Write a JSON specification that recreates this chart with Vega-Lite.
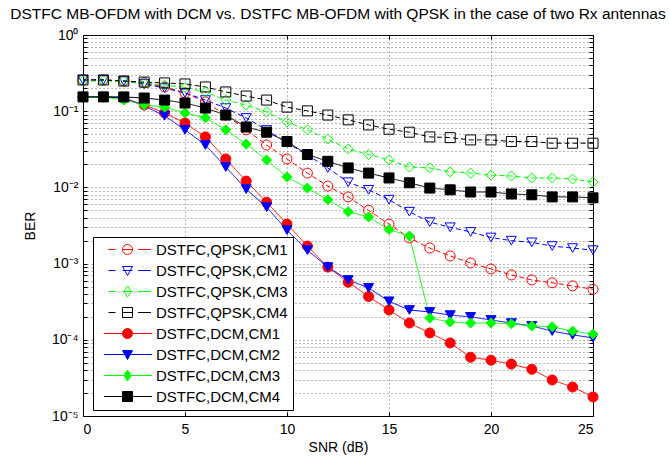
{
"$schema": "https://vega.github.io/schema/vega-lite/v6.json",
"width": 510, "height": 381,
"autosize": {"type": "none"},
"padding": {"left": 83, "top": 35, "right": 77, "bottom": 40},
"background": "white",
"title": {"text": "DSTFC MB-OFDM with DCM vs. DSTFC MB-OFDM with QPSK in the case of two Rx antennas", "fontSize": 15.5, "font": "Liberation Sans", "fontWeight": "normal", "color": "#000", "anchor": "middle", "offset": 6},
"data": {"values": [
{"series":"DSTFC,QPSK,CM1","snr":0,"ber":0.257},{"series":"DSTFC,QPSK,CM1","snr":1,"ber":0.257},{"series":"DSTFC,QPSK,CM1","snr":2,"ber":0.249},{"series":"DSTFC,QPSK,CM1","snr":3,"ber":0.235},{"series":"DSTFC,QPSK,CM1","snr":4,"ber":0.208},{"series":"DSTFC,QPSK,CM1","snr":5,"ber":0.174},{"series":"DSTFC,QPSK,CM1","snr":6,"ber":0.132},{"series":"DSTFC,QPSK,CM1","snr":7,"ber":0.089},{"series":"DSTFC,QPSK,CM1","snr":8,"ber":0.057},{"series":"DSTFC,QPSK,CM1","snr":9,"ber":0.036},{"series":"DSTFC,QPSK,CM1","snr":10,"ber":0.0236},{"series":"DSTFC,QPSK,CM1","snr":11,"ber":0.0154},{"series":"DSTFC,QPSK,CM1","snr":12,"ber":0.0104},{"series":"DSTFC,QPSK,CM1","snr":13,"ber":0.0075},{"series":"DSTFC,QPSK,CM1","snr":14,"ber":0.005},{"series":"DSTFC,QPSK,CM1","snr":15,"ber":0.0033},{"series":"DSTFC,QPSK,CM1","snr":16,"ber":0.00217},{"series":"DSTFC,QPSK,CM1","snr":17,"ber":0.0016},{"series":"DSTFC,QPSK,CM1","snr":18,"ber":0.00126},{"series":"DSTFC,QPSK,CM1","snr":19,"ber":0.00102},{"series":"DSTFC,QPSK,CM1","snr":20,"ber":0.00085},{"series":"DSTFC,QPSK,CM1","snr":21,"ber":0.00071},{"series":"DSTFC,QPSK,CM1","snr":22,"ber":0.00061},{"series":"DSTFC,QPSK,CM1","snr":23,"ber":0.00056},{"series":"DSTFC,QPSK,CM1","snr":24,"ber":0.00051},{"series":"DSTFC,QPSK,CM1","snr":25,"ber":0.00046},
{"series":"DSTFC,QPSK,CM2","snr":0,"ber":0.257},{"series":"DSTFC,QPSK,CM2","snr":1,"ber":0.257},{"series":"DSTFC,QPSK,CM2","snr":2,"ber":0.249},{"series":"DSTFC,QPSK,CM2","snr":3,"ber":0.228},{"series":"DSTFC,QPSK,CM2","snr":4,"ber":0.201},{"series":"DSTFC,QPSK,CM2","snr":5,"ber":0.174},{"series":"DSTFC,QPSK,CM2","snr":6,"ber":0.14},{"series":"DSTFC,QPSK,CM2","snr":7,"ber":0.11},{"series":"DSTFC,QPSK,CM2","snr":8,"ber":0.0815},{"series":"DSTFC,QPSK,CM2","snr":9,"ber":0.0567},{"series":"DSTFC,QPSK,CM2","snr":10,"ber":0.0385},{"series":"DSTFC,QPSK,CM2","snr":11,"ber":0.0266},{"series":"DSTFC,QPSK,CM2","snr":12,"ber":0.018},{"series":"DSTFC,QPSK,CM2","snr":13,"ber":0.0117},{"series":"DSTFC,QPSK,CM2","snr":14,"ber":0.0093},{"series":"DSTFC,QPSK,CM2","snr":15,"ber":0.0069},{"series":"DSTFC,QPSK,CM2","snr":16,"ber":0.0048},{"series":"DSTFC,QPSK,CM2","snr":17,"ber":0.0035},{"series":"DSTFC,QPSK,CM2","snr":18,"ber":0.003},{"series":"DSTFC,QPSK,CM2","snr":19,"ber":0.0026},{"series":"DSTFC,QPSK,CM2","snr":20,"ber":0.0022},{"series":"DSTFC,QPSK,CM2","snr":21,"ber":0.002},{"series":"DSTFC,QPSK,CM2","snr":22,"ber":0.0019},{"series":"DSTFC,QPSK,CM2","snr":23,"ber":0.0017},{"series":"DSTFC,QPSK,CM2","snr":24,"ber":0.0016},{"series":"DSTFC,QPSK,CM2","snr":25,"ber":0.0015},
{"series":"DSTFC,QPSK,CM3","snr":0,"ber":0.25},{"series":"DSTFC,QPSK,CM3","snr":1,"ber":0.25},{"series":"DSTFC,QPSK,CM3","snr":2,"ber":0.245},{"series":"DSTFC,QPSK,CM3","snr":3,"ber":0.235},{"series":"DSTFC,QPSK,CM3","snr":4,"ber":0.22},{"series":"DSTFC,QPSK,CM3","snr":5,"ber":0.205},{"series":"DSTFC,QPSK,CM3","snr":6,"ber":0.179},{"series":"DSTFC,QPSK,CM3","snr":7,"ber":0.14},{"series":"DSTFC,QPSK,CM3","snr":8,"ber":0.12},{"series":"DSTFC,QPSK,CM3","snr":9,"ber":0.098},{"series":"DSTFC,QPSK,CM3","snr":10,"ber":0.072},{"series":"DSTFC,QPSK,CM3","snr":11,"ber":0.057},{"series":"DSTFC,QPSK,CM3","snr":12,"ber":0.043},{"series":"DSTFC,QPSK,CM3","snr":13,"ber":0.032},{"series":"DSTFC,QPSK,CM3","snr":14,"ber":0.027},{"series":"DSTFC,QPSK,CM3","snr":15,"ber":0.023},{"series":"DSTFC,QPSK,CM3","snr":16,"ber":0.0185},{"series":"DSTFC,QPSK,CM3","snr":17,"ber":0.018},{"series":"DSTFC,QPSK,CM3","snr":18,"ber":0.016},{"series":"DSTFC,QPSK,CM3","snr":19,"ber":0.0154},{"series":"DSTFC,QPSK,CM3","snr":20,"ber":0.0145},{"series":"DSTFC,QPSK,CM3","snr":21,"ber":0.0141},{"series":"DSTFC,QPSK,CM3","snr":22,"ber":0.0133},{"series":"DSTFC,QPSK,CM3","snr":23,"ber":0.0133},{"series":"DSTFC,QPSK,CM3","snr":24,"ber":0.0129},{"series":"DSTFC,QPSK,CM3","snr":25,"ber":0.0118},
{"series":"DSTFC,QPSK,CM4","snr":0,"ber":0.257},{"series":"DSTFC,QPSK,CM4","snr":1,"ber":0.257},{"series":"DSTFC,QPSK,CM4","snr":2,"ber":0.249},{"series":"DSTFC,QPSK,CM4","snr":3,"ber":0.241},{"series":"DSTFC,QPSK,CM4","snr":4,"ber":0.235},{"series":"DSTFC,QPSK,CM4","snr":5,"ber":0.228},{"series":"DSTFC,QPSK,CM4","snr":6,"ber":0.208},{"series":"DSTFC,QPSK,CM4","snr":7,"ber":0.179},{"series":"DSTFC,QPSK,CM4","snr":8,"ber":0.158},{"series":"DSTFC,QPSK,CM4","snr":9,"ber":0.14},{"series":"DSTFC,QPSK,CM4","snr":10,"ber":0.113},{"series":"DSTFC,QPSK,CM4","snr":11,"ber":0.101},{"series":"DSTFC,QPSK,CM4","snr":12,"ber":0.089},{"series":"DSTFC,QPSK,CM4","snr":13,"ber":0.077},{"series":"DSTFC,QPSK,CM4","snr":14,"ber":0.066},{"series":"DSTFC,QPSK,CM4","snr":15,"ber":0.058},{"series":"DSTFC,QPSK,CM4","snr":16,"ber":0.053},{"series":"DSTFC,QPSK,CM4","snr":17,"ber":0.046},{"series":"DSTFC,QPSK,CM4","snr":18,"ber":0.045},{"series":"DSTFC,QPSK,CM4","snr":19,"ber":0.042},{"series":"DSTFC,QPSK,CM4","snr":20,"ber":0.042},{"series":"DSTFC,QPSK,CM4","snr":21,"ber":0.04},{"series":"DSTFC,QPSK,CM4","snr":22,"ber":0.04},{"series":"DSTFC,QPSK,CM4","snr":23,"ber":0.038},{"series":"DSTFC,QPSK,CM4","snr":24,"ber":0.038},{"series":"DSTFC,QPSK,CM4","snr":25,"ber":0.038},
{"series":"DSTFC,DCM,CM1","snr":0,"ber":0.154},{"series":"DSTFC,DCM,CM1","snr":1,"ber":0.154},{"series":"DSTFC,DCM,CM1","snr":2,"ber":0.149},{"series":"DSTFC,DCM,CM1","snr":3,"ber":0.121},{"series":"DSTFC,DCM,CM1","snr":4,"ber":0.095},{"series":"DSTFC,DCM,CM1","snr":5,"ber":0.07},{"series":"DSTFC,DCM,CM1","snr":6,"ber":0.046},{"series":"DSTFC,DCM,CM1","snr":7,"ber":0.0236},{"series":"DSTFC,DCM,CM1","snr":8,"ber":0.0121},{"series":"DSTFC,DCM,CM1","snr":9,"ber":0.0064},{"series":"DSTFC,DCM,CM1","snr":10,"ber":0.0033},{"series":"DSTFC,DCM,CM1","snr":11,"ber":0.0017},{"series":"DSTFC,DCM,CM1","snr":12,"ber":0.0009},{"series":"DSTFC,DCM,CM1","snr":13,"ber":0.00057},{"series":"DSTFC,DCM,CM1","snr":14,"ber":0.00037},{"series":"DSTFC,DCM,CM1","snr":15,"ber":0.000246},{"series":"DSTFC,DCM,CM1","snr":16,"ber":0.000166},{"series":"DSTFC,DCM,CM1","snr":17,"ber":0.000123},{"series":"DSTFC,DCM,CM1","snr":18,"ber":0.000091},{"series":"DSTFC,DCM,CM1","snr":19,"ber":0.000059},{"series":"DSTFC,DCM,CM1","snr":20,"ber":0.000054},{"series":"DSTFC,DCM,CM1","snr":21,"ber":0.000048},{"series":"DSTFC,DCM,CM1","snr":22,"ber":0.000041},{"series":"DSTFC,DCM,CM1","snr":23,"ber":0.0000297},{"series":"DSTFC,DCM,CM1","snr":24,"ber":0.000024},{"series":"DSTFC,DCM,CM1","snr":25,"ber":0.0000178},
{"series":"DSTFC,DCM,CM2","snr":0,"ber":0.154},{"series":"DSTFC,DCM,CM2","snr":1,"ber":0.154},{"series":"DSTFC,DCM,CM2","snr":2,"ber":0.15},{"series":"DSTFC,DCM,CM2","snr":3,"ber":0.117},{"series":"DSTFC,DCM,CM2","snr":4,"ber":0.087},{"series":"DSTFC,DCM,CM2","snr":5,"ber":0.057},{"series":"DSTFC,DCM,CM2","snr":6,"ber":0.036},{"series":"DSTFC,DCM,CM2","snr":7,"ber":0.0185},{"series":"DSTFC,DCM,CM2","snr":8,"ber":0.0095},{"series":"DSTFC,DCM,CM2","snr":9,"ber":0.0055},{"series":"DSTFC,DCM,CM2","snr":10,"ber":0.00275},{"series":"DSTFC,DCM,CM2","snr":11,"ber":0.0015},{"series":"DSTFC,DCM,CM2","snr":12,"ber":0.0009},{"series":"DSTFC,DCM,CM2","snr":13,"ber":0.00061},{"series":"DSTFC,DCM,CM2","snr":14,"ber":0.00048},{"series":"DSTFC,DCM,CM2","snr":15,"ber":0.00032},{"series":"DSTFC,DCM,CM2","snr":16,"ber":0.000246},{"series":"DSTFC,DCM,CM2","snr":17,"ber":0.000232},{"series":"DSTFC,DCM,CM2","snr":18,"ber":0.000211},{"series":"DSTFC,DCM,CM2","snr":19,"ber":0.0002},{"series":"DSTFC,DCM,CM2","snr":20,"ber":0.000182},{"series":"DSTFC,DCM,CM2","snr":21,"ber":0.000166},{"series":"DSTFC,DCM,CM2","snr":22,"ber":0.000152},{"series":"DSTFC,DCM,CM2","snr":23,"ber":0.00013},{"series":"DSTFC,DCM,CM2","snr":24,"ber":0.000116},{"series":"DSTFC,DCM,CM2","snr":25,"ber":0.000106},
{"series":"DSTFC,DCM,CM3","snr":0,"ber":0.154},{"series":"DSTFC,DCM,CM3","snr":1,"ber":0.154},{"series":"DSTFC,DCM,CM3","snr":2,"ber":0.14},{"series":"DSTFC,DCM,CM3","snr":3,"ber":0.121},{"series":"DSTFC,DCM,CM3","snr":4,"ber":0.113},{"series":"DSTFC,DCM,CM3","snr":5,"ber":0.095},{"series":"DSTFC,DCM,CM3","snr":6,"ber":0.082},{"series":"DSTFC,DCM,CM3","snr":7,"ber":0.057},{"series":"DSTFC,DCM,CM3","snr":8,"ber":0.037},{"series":"DSTFC,DCM,CM3","snr":9,"ber":0.0229},{"series":"DSTFC,DCM,CM3","snr":10,"ber":0.0137},{"series":"DSTFC,DCM,CM3","snr":11,"ber":0.0098},{"series":"DSTFC,DCM,CM3","snr":12,"ber":0.0069},{"series":"DSTFC,DCM,CM3","snr":13,"ber":0.0048},{"series":"DSTFC,DCM,CM3","snr":14,"ber":0.0041},{"series":"DSTFC,DCM,CM3","snr":15,"ber":0.0028},{"series":"DSTFC,DCM,CM3","snr":16,"ber":0.0023},{"series":"DSTFC,DCM,CM3","snr":17,"ber":0.000193},{"series":"DSTFC,DCM,CM3","snr":18,"ber":0.000171},{"series":"DSTFC,DCM,CM3","snr":19,"ber":0.000166},{"series":"DSTFC,DCM,CM3","snr":20,"ber":0.000166},{"series":"DSTFC,DCM,CM3","snr":21,"ber":0.000162},{"series":"DSTFC,DCM,CM3","snr":22,"ber":0.000152},{"series":"DSTFC,DCM,CM3","snr":23,"ber":0.000148},{"series":"DSTFC,DCM,CM3","snr":24,"ber":0.00013},{"series":"DSTFC,DCM,CM3","snr":25,"ber":0.000119},
{"series":"DSTFC,DCM,CM4","snr":0,"ber":0.154},{"series":"DSTFC,DCM,CM4","snr":1,"ber":0.154},{"series":"DSTFC,DCM,CM4","snr":2,"ber":0.154},{"series":"DSTFC,DCM,CM4","snr":3,"ber":0.149},{"series":"DSTFC,DCM,CM4","snr":4,"ber":0.14},{"series":"DSTFC,DCM,CM4","snr":5,"ber":0.128},{"series":"DSTFC,DCM,CM4","snr":6,"ber":0.11},{"series":"DSTFC,DCM,CM4","snr":7,"ber":0.089},{"series":"DSTFC,DCM,CM4","snr":8,"ber":0.062},{"series":"DSTFC,DCM,CM4","snr":9,"ber":0.053},{"series":"DSTFC,DCM,CM4","snr":10,"ber":0.04},{"series":"DSTFC,DCM,CM4","snr":11,"ber":0.027},{"series":"DSTFC,DCM,CM4","snr":12,"ber":0.022},{"series":"DSTFC,DCM,CM4","snr":13,"ber":0.018},{"series":"DSTFC,DCM,CM4","snr":14,"ber":0.0154},{"series":"DSTFC,DCM,CM4","snr":15,"ber":0.0133},{"series":"DSTFC,DCM,CM4","snr":16,"ber":0.0115},{"series":"DSTFC,DCM,CM4","snr":17,"ber":0.0098},{"series":"DSTFC,DCM,CM4","snr":18,"ber":0.0093},{"series":"DSTFC,DCM,CM4","snr":19,"ber":0.0087},{"series":"DSTFC,DCM,CM4","snr":20,"ber":0.0087},{"series":"DSTFC,DCM,CM4","snr":21,"ber":0.0082},{"series":"DSTFC,DCM,CM4","snr":22,"ber":0.008},{"series":"DSTFC,DCM,CM4","snr":23,"ber":0.0075},{"series":"DSTFC,DCM,CM4","snr":24,"ber":0.0075},{"series":"DSTFC,DCM,CM4","snr":25,"ber":0.0073}
]},
"layer": [
{"mark": {"type": "line", "strokeWidth": 1},
 "encoding": {
  "x": {"field": "snr", "type": "quantitative", "scale": {"domain": [0, 25], "nice": false}, "axis": {"orient": "top", "labels": false, "title": null, "grid": false, "domain": false, "tickSize": -4, "values": [0,5,10,15,20,25]}},
  "y": {"field": "ber", "type": "quantitative", "scale": {"type": "log", "domain": [0.00001, 1], "nice": false}, "axis": {"orient": "right", "labels": false, "title": null, "grid": false, "domain": false, "tickSize": -4, "values": [0.00001,0.00002,0.00003,0.00004,0.00005,0.00006,0.00007,0.00008,0.00009,0.0001,0.0002,0.0003,0.0004,0.0005,0.0006,0.0007,0.0008,0.0009,0.001,0.002,0.003,0.004,0.005,0.006,0.007,0.008,0.009,0.01,0.02,0.03,0.04,0.05,0.06,0.07,0.08,0.09,0.1,0.2,0.3,0.4,0.5,0.6,0.7,0.8,0.9,1]}},
  "color": {"field": "series", "type": "nominal", "scale": {"range": ["#ff0000","#0000ff","#00ff00","#000000","#ff0000","#0000ff","#00ff00","#000000"]}, "legend": null},
  "strokeDash": {"field": "series", "type": "nominal", "scale": {"range": [[1,0],[1,0],[1,0],[1,0],[5,3],[5,3],[5,3],[5,3]]}, "legend": null}
 }},
{"mark": {"type": "point", "size": 100, "opacity": 1, "strokeWidth": 1},
 "encoding": {
  "x": {"field": "snr", "type": "quantitative", "scale": {"domain": [0, 25], "nice": false}, "axis": {"orient": "bottom", "title": "SNR (dB)", "grid": true, "domain": false, "tickSize": -4, "labelPadding": 10, "titlePadding": 4, "values": [0,5,10,15,20,25]}},
  "y": {"field": "ber", "type": "quantitative", "scale": {"type": "log", "domain": [0.00001, 1], "nice": false}, "axis": {"orient": "left", "title": "BER", "grid": true, "domain": false, "tickSize": -4, "labelPadding": 9, "titlePadding": 14, "values": [0.00001,0.00002,0.00003,0.00004,0.00005,0.00006,0.00007,0.00008,0.00009,0.0001,0.0002,0.0003,0.0004,0.0005,0.0006,0.0007,0.0008,0.0009,0.001,0.002,0.003,0.004,0.005,0.006,0.007,0.008,0.009,0.01,0.02,0.03,0.04,0.05,0.06,0.07,0.08,0.09,0.1,0.2,0.3,0.4,0.5,0.6,0.7,0.8,0.9,1], "labelExpr": "datum.value == 1 ? '10⁰' : datum.value == 0.1 ? '10⁻¹' : datum.value == 0.01 ? '10⁻²' : datum.value == 0.001 ? '10⁻³' : datum.value == 0.0001 ? '10⁻⁴' : datum.value == 0.00001 ? '10⁻⁵' : ''"}},
  "stroke": {"field": "series", "type": "nominal", "scale": {"domain": ["DSTFC,QPSK,CM1","DSTFC,QPSK,CM2","DSTFC,QPSK,CM3","DSTFC,QPSK,CM4","DSTFC,DCM,CM1","DSTFC,DCM,CM2","DSTFC,DCM,CM3","DSTFC,DCM,CM4"], "range": ["#ff0000","#0000ff","#00ff00","#000000","#ff0000","#0000ff","#00ff00","#000000"]},
    "legend": {"title": null, "orient": "none", "legendX": 10, "legendY": 202, "symbolType": {"expr": "indexof(datum.value, 'QPSK') >= 0 ? ((indexof(datum.value, 'CM1') >= 0 ? 'M-1,0A1,1 0 1,0 1,0A1,1 0 1,0 -1,0Z' : indexof(datum.value, 'CM2') >= 0 ? 'M-1,-0.8H1L0,1Z' : indexof(datum.value, 'CM3') >= 0 ? 'M0,-1.1L0.75,0L0,1.1L-0.75,0Z' : 'M-1,-1H1V1H-1Z') + 'M-3.8,0H-2.4M-1,0H1M2.1,0H4.7') : ((indexof(datum.value, 'CM1') >= 0 ? 'M-1,0A1,1 0 1,0 1,0A1,1 0 1,0 -1,0Z' : indexof(datum.value, 'CM2') >= 0 ? 'M-1,-0.8H1L0,1Z' : indexof(datum.value, 'CM3') >= 0 ? 'M0,-1.1L0.75,0L0,1.1L-0.75,0Z' : 'M-1,-1H1V1H-1Z') + 'M-4.7,0H4.9')"}}},
  "fill": {"field": "series", "type": "nominal", "scale": {"domain": ["DSTFC,QPSK,CM1","DSTFC,QPSK,CM2","DSTFC,QPSK,CM3","DSTFC,QPSK,CM4","DSTFC,DCM,CM1","DSTFC,DCM,CM2","DSTFC,DCM,CM3","DSTFC,DCM,CM4"], "range": ["transparent","transparent","transparent","transparent","#ff0000","#0000ff","#00ff00","#000000"]},
    "legend": {"title": null, "orient": "none", "legendX": 10, "legendY": 202, "symbolType": {"expr": "indexof(datum.value, 'QPSK') >= 0 ? ((indexof(datum.value, 'CM1') >= 0 ? 'M-1,0A1,1 0 1,0 1,0A1,1 0 1,0 -1,0Z' : indexof(datum.value, 'CM2') >= 0 ? 'M-1,-0.8H1L0,1Z' : indexof(datum.value, 'CM3') >= 0 ? 'M0,-1.1L0.75,0L0,1.1L-0.75,0Z' : 'M-1,-1H1V1H-1Z') + 'M-3.8,0H-2.4M-1,0H1M2.1,0H4.7') : ((indexof(datum.value, 'CM1') >= 0 ? 'M-1,0A1,1 0 1,0 1,0A1,1 0 1,0 -1,0Z' : indexof(datum.value, 'CM2') >= 0 ? 'M-1,-0.8H1L0,1Z' : indexof(datum.value, 'CM3') >= 0 ? 'M0,-1.1L0.75,0L0,1.1L-0.75,0Z' : 'M-1,-1H1V1H-1Z') + 'M-4.7,0H4.9')"}}},
  "shape": {"field": "series", "type": "nominal", "scale": {"range": ["circle","triangle-down","diamond","square","circle","triangle-down","diamond","square"]}, "legend": null}
 }}
],
"resolve": {"axis": {"x": "independent", "y": "independent"}},
"config": {
 "font": "Liberation Sans",
 "view": {"stroke": "#000", "strokeWidth": 1},
 "axis": {"labelFont": "Liberation Sans", "titleFont": "Liberation Sans", "labelFontSize": 14, "titleFontSize": 14, "titleFontWeight": "normal", "labelColor": "#000", "titleColor": "#000", "tickColor": "#000", "tickWidth": 1, "gridColor": "#000", "gridDash": [1, 3], "gridOpacity": 0.55, "gridWidth": 1},
 "legend": {"strokeColor": "#000", "fillColor": "#fff", "padding": 5, "labelFont": "Liberation Sans", "labelFontSize": 15, "labelColor": "#000", "labelLimit": 300, "symbolSize": 100, "symbolStrokeWidth": 1, "symbolOffset": 22, "labelOffset": 21, "rowPadding": 5}
}
}
